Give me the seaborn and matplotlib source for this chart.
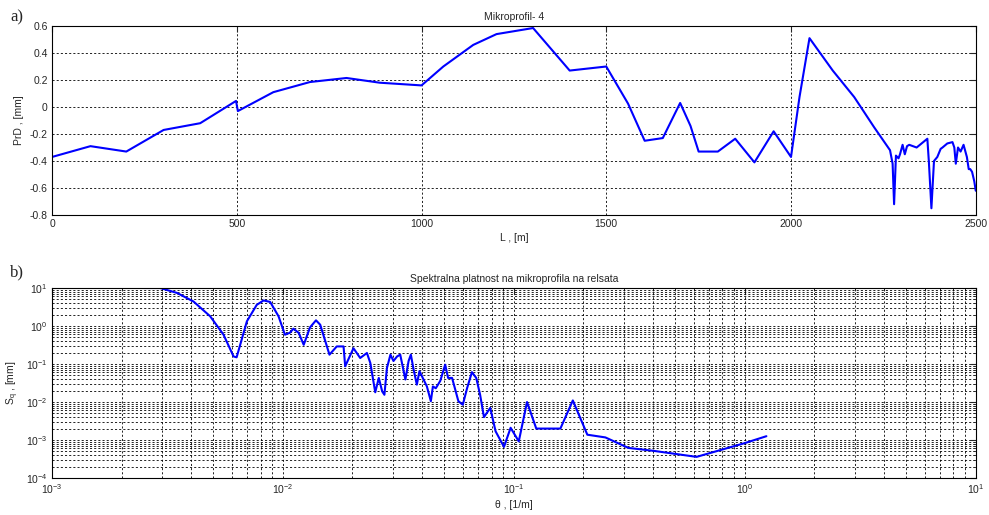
import numpy as np
import pandas as pd
import matplotlib
matplotlib.use("Agg")
import matplotlib.pyplot as plt
import seaborn as sns
from matplotlib.ticker import LogLocator, NullFormatter

# a) micro-profile of the rail
L_m = [0, 104, 201, 302, 401, 498, 503, 599, 698, 797, 887, 1000, 1059, 1140,
       1203, 1302, 1401, 1500, 1559, 1604, 1653, 1700, 1728, 1750, 1802, 1849,
       1901, 1953, 2000, 2023, 2050, 2113, 2171, 2225, 2268, 2275, 2279, 2284,
       2291, 2295, 2302, 2308, 2314, 2320, 2340, 2369, 2373, 2380, 2387, 2396,
       2405, 2410, 2423, 2437, 2442, 2446, 2452, 2459, 2467, 2476, 2481, 2485,
       2490, 2496, 2500]
PrD_mm = [-0.37, -0.29, -0.33, -0.17, -0.12, 0.045, -0.03, 0.11, 0.185, 0.215,
          0.18, 0.16, 0.30, 0.46, 0.54, 0.585, 0.27, 0.30, 0.025, -0.25, -0.23,
          0.03, -0.14, -0.33, -0.33, -0.235, -0.41, -0.18, -0.37, 0.074, 0.51,
          0.27, 0.074, -0.15, -0.32, -0.42, -0.72, -0.36, -0.38, -0.35, -0.28,
          -0.35, -0.29, -0.28, -0.30, -0.235, -0.40, -0.75, -0.40, -0.37, -0.31,
          -0.30, -0.27, -0.26, -0.30, -0.42, -0.30, -0.33, -0.28, -0.37, -0.46,
          -0.46, -0.48, -0.55, -0.62]

# b) spectral density of the micro-profile
theta = [0.0025, 0.00294, 0.00348, 0.0041, 0.00484, 0.00553, 0.00611, 0.0063,
         0.00698, 0.0077, 0.00824, 0.0088, 0.00957, 0.0102, 0.0107, 0.0111,
         0.0117, 0.0123, 0.0131, 0.0139, 0.0145, 0.0159, 0.0171, 0.0183, 0.0186,
         0.0202, 0.0216, 0.0231, 0.0239, 0.0251, 0.026, 0.0269, 0.0275, 0.0282,
         0.0292, 0.0301, 0.0312, 0.0322, 0.0339, 0.035, 0.0358, 0.0368, 0.038,
         0.039, 0.042, 0.0437, 0.0446, 0.0459, 0.048, 0.0504, 0.0519, 0.054,
         0.0575, 0.0601, 0.0627, 0.0658, 0.0687, 0.0714, 0.0742, 0.079, 0.0833,
         0.0906, 0.0968, 0.105, 0.114, 0.125, 0.159, 0.18, 0.208, 0.249, 0.313,
         0.402, 0.618, 1.0, 1.24]
Sq = [10, 10, 7.4, 4.4, 1.8, 0.59, 0.158, 0.15, 1.33, 3.6, 4.7, 4.3, 1.8, 0.59,
      0.66, 0.85, 0.66, 0.32, 0.92, 1.41, 1.08, 0.176, 0.29, 0.29, 0.087, 0.26,
      0.144, 0.195, 0.106, 0.018, 0.043, 0.019, 0.0155, 0.078, 0.176, 0.12,
      0.158, 0.176, 0.039, 0.12, 0.176, 0.071, 0.0286, 0.065, 0.0257, 0.0105,
      0.0257, 0.023, 0.036, 0.096, 0.043, 0.043, 0.0105, 0.0085, 0.023, 0.061,
      0.043, 0.0156, 0.004, 0.007, 0.0017, 0.00066, 0.0021, 0.00092, 0.01,
      0.002, 0.002, 0.011, 0.00138, 0.00117, 0.00062, 0.00052, 0.00036, 0.00083,
      0.00126]

sns.set_style("white")
plt.rcParams['font.family'] = ['Liberation Sans', 'DejaVu Sans']
plt.rcParams['mathtext.fontset'] = 'custom'
plt.rcParams['mathtext.rm'] = 'Liberation Sans'
plt.rcParams['mathtext.it'] = 'Liberation Sans:italic'

grid_kw = dict(color='black', linestyle=(0, (2.5, 2.5)), linewidth=0.6)
fs = 7.5

fig = plt.figure(figsize=(9.89, 5.15), dpi=100)

# --- a) profile ---
ax1 = fig.add_axes([0.0526, 0.5825, 0.934, 0.367])
prof = pd.DataFrame({"L": L_m, "PrD": PrD_mm})
sns.lineplot(data=prof, x="L", y="PrD", ax=ax1, color='blue', linewidth=1.5,
             sort=False, estimator=None)
ax1.set_xlim(0, 2500)
ax1.set_ylim(-0.8, 0.6)
ax1.set_xticks([0, 500, 1000, 1500, 2000, 2500])
ax1.set_yticks(np.round(np.arange(-0.8, 0.61, 0.2), 1))
ax1.set_yticklabels(['-0.8', '-0.6', '-0.4', '-0.2', '0', '0.2', '0.4', '0.6'])
ax1.grid(True, which='major', **grid_kw)
ax1.tick_params(direction='in', top=True, right=True, length=4, labelsize=fs, pad=3)
ax1.set_title('Mikroprofil- 4', fontsize=fs, pad=4)
ax1.set_xlabel('L , [m]', fontsize=fs, labelpad=3)
ax1.set_ylabel('PrD , [mm]', fontsize=fs, labelpad=4)

# --- b) spectral density ---
ax2 = fig.add_axes([0.0526, 0.0718, 0.934, 0.369])
ax2.set_xscale('log')
ax2.set_yscale('log')
spec = pd.DataFrame({"theta": theta, "Sq": Sq})
sns.lineplot(data=spec, x="theta", y="Sq", ax=ax2, color='blue', linewidth=1.5,
             sort=False, estimator=None)
ax2.set_xlim(1e-3, 10)
ax2.set_ylim(1e-4, 10)
for axis in (ax2.xaxis, ax2.yaxis):
    axis.set_major_locator(LogLocator(base=10, numticks=20))
    axis.set_minor_locator(LogLocator(base=10, subs=np.arange(2, 10), numticks=20))
    axis.set_minor_formatter(NullFormatter())
ax2.grid(True, which='both', **grid_kw)
ax2.tick_params(which='both', direction='in', top=True, right=True, labelsize=fs, pad=3)
ax2.tick_params(which='major', length=4)
ax2.tick_params(which='minor', length=2.5)
ax2.set_title('Spektralna platnost na mikroprofila na relsata', fontsize=fs, pad=4)
ax2.set_xlabel(r'θ , [1/m]', fontsize=fs, labelpad=3)
ax2.set_ylabel(r'S$_\mathregular{q}$ , [mm]', fontsize=fs, labelpad=4)

for ax in (ax1, ax2):
    for sp in ax.spines.values():
        sp.set_color('black')
        sp.set_linewidth(0.8)

fig.text(0.010, 0.966, 'a)', fontsize=12, family='Liberation Serif', va='center')
fig.text(0.010, 0.472, 'b)', fontsize=12, family='Liberation Serif', va='center')

fig.savefig('out.png', dpi=100)
